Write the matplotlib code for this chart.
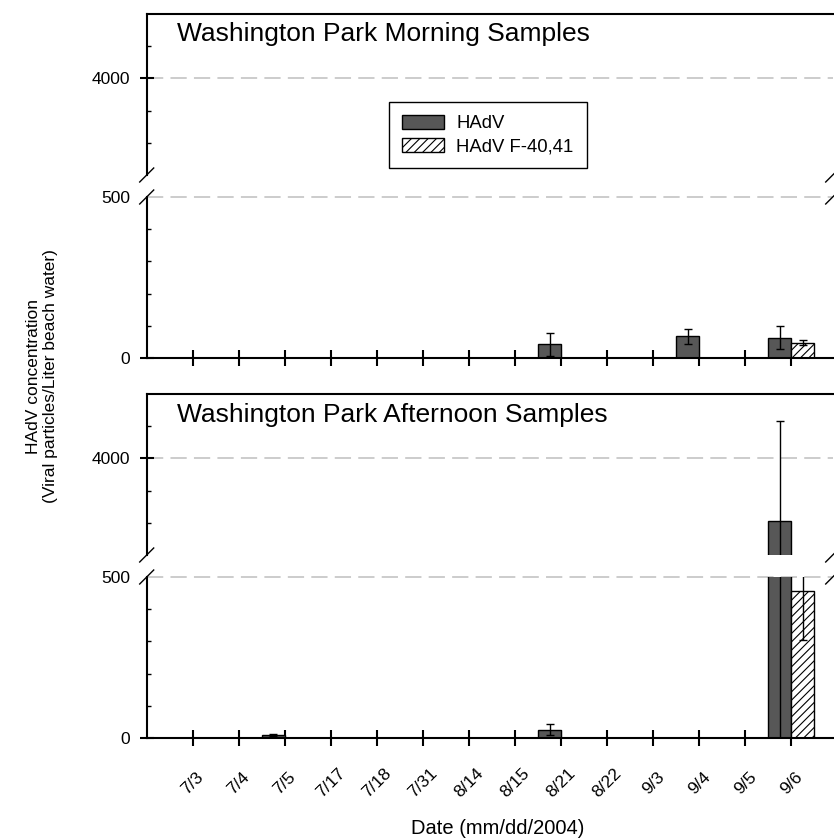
import numpy as np
import matplotlib
matplotlib.use('Agg')
import matplotlib.pyplot as plt
from matplotlib.patches import Patch

plt.rcParams['font.family'] = ['Liberation Sans', 'DejaVu Sans']
plt.rcParams['hatch.linewidth'] = 0.8

# sampling dates (mm/dd/2004)
dates = ['7/3', '7/4', '7/5', '7/17', '7/18', '7/31', '8/14', '8/15',
         '8/21', '8/22', '9/3', '9/4', '9/5', '9/6']

# morning samples (viral particles / L)
am_hadv = np.array([0, 0, 0, 0, 0, 0, 0, 0, 42, 0, 0, 67, 0, 63])
am_hadv_err = np.array([0, 0, 0, 0, 0, 0, 0, 0, 35, 0, 0, 24, 0, 36])
am_f = np.array([0, 0, 0, 0, 0, 0, 0, 0, 0, 0, 0, 0, 0, 48])
am_f_err = np.array([0, 0, 0, 0, 0, 0, 0, 0, 0, 0, 0, 0, 0, 7])

# afternoon samples
pm_hadv = np.array([0, 0, 8, 0, 0, 0, 0, 0, 26, 0, 0, 0, 0, 2060])
pm_hadv_err = np.array([0, 0, 3, 0, 0, 0, 0, 0, 17, 0, 0, 0, 0, 3100])
pm_f = np.array([0, 0, 0, 0, 0, 0, 0, 0, 0, 0, 0, 0, 0, 455])
pm_f_err = np.array([0, 0, 0, 0, 0, 0, 0, 0, 0, 0, 0, 0, 0, 150])

W, H = 834, 839
fig = plt.figure(figsize=(W / 100, H / 100), dpi=100)
x = np.arange(1, len(dates) + 1)
dark = '#575757'
grid_kw = dict(color='#c8c8c8', lw=1.3, ls=(0, (9, 4)), zorder=0.5)


def px_axes(top, bottom, left=146.7, right=832.7):
    return fig.add_axes([left / W, 1 - bottom / H, (right - left) / W, (bottom - top) / H])


def draw_bars(ax, hadv, hadv_err, f, f_err):
    ax.bar(x - 0.25, hadv, 0.5, color=dark, edgecolor='black', linewidth=1, zorder=2)
    ax.bar(x + 0.25, f, 0.5, color='white', edgecolor='black', hatch='////',
           linewidth=1, zorder=2)
    m = hadv_err > 0
    ax.errorbar(x[m] - 0.25, hadv[m], yerr=hadv_err[m], fmt='none', ecolor='black',
                elinewidth=1, capsize=3, capthick=1, zorder=3)
    m = f_err > 0
    ax.errorbar(x[m] + 0.25, f[m], yerr=f_err[m], fmt='none', ecolor='black',
                elinewidth=1, capsize=3, capthick=1, zorder=3)


def panel(top, title, hadv, hadv_err, f, f_err, show_labels):
    ax_up = px_axes(top, top + 161)
    ax_lo = px_axes(top + 183, top + 344)
    for ax in (ax_up, ax_lo):
        draw_bars(ax, hadv, hadv_err, f, f_err)
        ax.set_xlim(0, 14.9)
        ax.spines['right'].set_visible(False)
        ax.spines['left'].set_linewidth(1.5)
        ax.tick_params(axis='y', which='major', direction='inout', length=10,
                       width=1.5, labelsize=12.5, pad=7)
        ax.tick_params(axis='y', which='minor', direction='in', length=3, width=1)

    # upper segment 1000 - 6000
    ax_up.set_ylim(1000, 6000)
    ax_up.set_yticks([4000])
    ax_up.set_yticklabels(['4000'])
    ax_up.set_yticks([2000, 3000, 5000], minor=True)
    ax_up.spines['bottom'].set_visible(False)
    ax_up.spines['top'].set_linewidth(1.5)
    ax_up.tick_params(axis='x', bottom=False, labelbottom=False)
    ax_up.axhline(4000, **grid_kw)
    ax_up.text(30 / 686, 1 - 27.5 / 161, title, transform=ax_up.transAxes,
               fontsize=19, ha='left', va='baseline')

    # lower segment 0 - 500
    ax_lo.set_ylim(0, 500)
    ax_lo.set_yticks([0, 500])
    ax_lo.set_yticklabels(['0', '500'])
    ax_lo.set_yticks([100, 200, 300, 400], minor=True)
    ax_lo.yaxis.get_major_ticks()[1].tick1line.set_visible(False)
    ax_lo.spines['top'].set_visible(False)
    ax_lo.spines['bottom'].set_linewidth(1.5)
    ax_lo.axhline(500, clip_on=False, **grid_kw)
    ax_lo.set_xticks(x)
    ax_lo.tick_params(axis='x', direction='inout', length=11, width=1.5)
    if show_labels:
        ax_lo.set_xticklabels(dates, fontsize=12.5, rotation=45)
        ax_lo.tick_params(axis='x', pad=27)
        for lbl in ax_lo.get_xticklabels():
            lbl.set_ha('center')
            lbl.set_va('center')
    else:
        ax_lo.tick_params(axis='x', labelbottom=False)

    # break marks
    dx, dy = 7 / 686, 7 / 161
    kw = dict(color='black', lw=1, clip_on=False, zorder=5)
    for xx in (0, 1):
        ax_up.plot([xx - dx, xx + dx], [-dy, dy], transform=ax_up.transAxes, **kw)
        ax_lo.plot([xx - dx, xx + dx], [1 - dy, 1 + dy], transform=ax_lo.transAxes, **kw)
    return ax_up, ax_lo


panel(14, 'Washington Park Morning Samples', am_hadv, am_hadv_err, am_f, am_f_err, False)
panel(394, 'Washington Park Afternoon Samples', pm_hadv, pm_hadv_err, pm_f, pm_f_err, True)

handles = [Patch(facecolor=dark, edgecolor='black', label='HAdV'),
           Patch(facecolor='white', edgecolor='black', hatch='////', label='HAdV F-40,41')]
leg = fig.legend(handles=handles, loc='upper left', bbox_to_anchor=(389 / W, 1 - 102 / H),
                 bbox_transform=fig.transFigure, borderaxespad=0, fontsize=13.3,
                 fancybox=False, edgecolor='black', framealpha=1, handlelength=2.3,
                 handleheight=0.8, handletextpad=0.65, borderpad=0.7, labelspacing=0.3)
leg.get_frame().set_linewidth(1.0)

fig.text(42 / W, 1 - 376 / H, 'HAdV concentration\n(Viral particles/Liter beach water)',
         rotation=90, ha='center', va='center', fontsize=12.5, multialignment='center')
fig.text(498 / W, 1 - 828 / H, 'Date (mm/dd/2004)', ha='center', va='center', fontsize=14.5)

fig.savefig('out.png', dpi=100)
